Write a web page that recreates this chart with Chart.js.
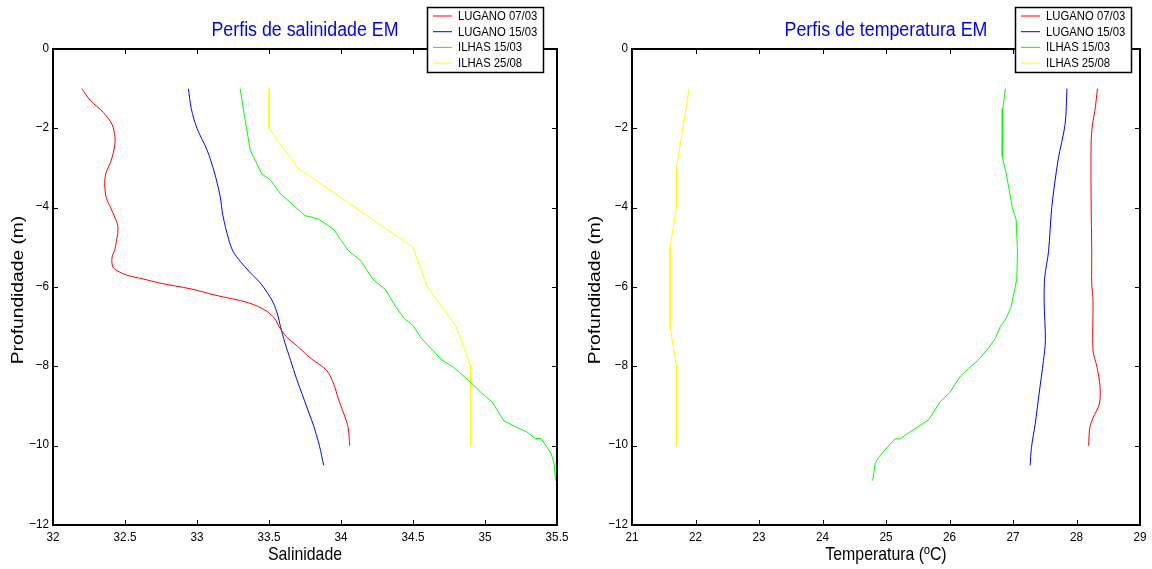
<!DOCTYPE html>
<html>
<head>
<meta charset="utf-8">
<script src="https://cdn.jsdelivr.net/npm/chart.js@4"></script>
<style>
  body { margin: 0; background: #fff; }
  #wrap { position: relative; width: 1152px; height: 569px; }
  canvas { position: absolute; top: 0; }
</style>
</head>
<body>
<div id="wrap">
  <canvas id="salChart" width="576" height="569" style="left:0"></canvas>
  <canvas id="tempChart" width="576" height="569" style="left:576px"></canvas>
</div>
<script>
// -----------------------------
// Data (depth in m, negative down)
// -----------------------------
const seriesLabels = ["LUGANO 07/03", "LUGANO 15/03", "ILHAS 15/03", "ILHAS 25/08"];
const seriesColors = ["#ff0000", "#0000ff", "#00ff00", "#ffff00"];
const yTicks = [0, -2, -4, -6, -8, -10, -12];

// salinity
const salLug0703Depth = [-1, -1.3, -1.6, -1.9, -2.2, -2.4, -2.6, -2.85, -3.1, -3.3, -3.5, -3.75, -4.0, -4.25, -4.45, -4.65, -4.85, -5.05, -5.25, -5.42, -5.52, -5.6, -5.7, -5.8, -5.9, -6.05, -6.2, -6.4, -6.6, -6.8, -7.0, -7.25, -7.5, -7.8, -8.1, -8.45, -8.8, -9.2, -9.55, -10];
const salLug0703 = [32.2, 32.26, 32.35, 32.41, 32.43, 32.43, 32.42, 32.40, 32.37, 32.36, 32.36, 32.37, 32.40, 32.43, 32.45, 32.45, 32.44, 32.43, 32.41, 32.41, 32.42, 32.45, 32.51, 32.63, 32.74, 32.96, 33.12, 33.36, 33.48, 33.54, 33.57, 33.62, 33.70, 33.79, 33.90, 33.95, 33.98, 34.02, 34.05, 34.06];
const salLug1503Depth = [-1, -1.5, -2, -2.55, -3.1, -3.7, -4.2, -4.8, -5.1, -5.35, -5.6, -5.9, -6.1, -6.4, -6.7, -7.0, -7.4, -7.85, -8.3, -8.8, -9.2, -9.5, -10.0, -10.5];
const salLug1503 = [32.94, 32.96, 33.0, 33.07, 33.12, 33.16, 33.18, 33.22, 33.25, 33.30, 33.36, 33.44, 33.48, 33.53, 33.56, 33.58, 33.61, 33.65, 33.69, 33.74, 33.78, 33.81, 33.85, 33.88];
const salIlh1503Depth = [-1, -1.7, -2.55, -3.15, -3.3, -3.65, -4.2, -4.28, -4.55, -5.08, -5.35, -5.8, -6.07, -6.5, -6.8, -6.97, -7.3, -7.84, -8.02, -8.4, -8.65, -8.9, -9.37, -9.54, -9.65, -9.82, -9.82, -10.2, -10.46, -10.88];
const salIlh1503 = [33.30, 33.33, 33.37, 33.45, 33.51, 33.58, 33.75, 33.84, 33.95, 34.05, 34.14, 34.22, 34.31, 34.38, 34.44, 34.50, 34.56, 34.70, 34.78, 34.90, 34.97, 35.05, 35.13, 35.22, 35.29, 35.35, 35.39, 35.46, 35.48, 35.49];
const salIlh2508Depth = [-1, -2, -3, -4, -5, -6, -7, -8, -9, -10];
const salIlh2508 = [33.5, 33.5, 33.7, 34.1, 34.5, 34.6, 34.8, 34.9, 34.9, 34.9];

// temperature
const tmpLug0703Depth = [-1, -1.55, -1.92, -2.4, -3.8, -5.1, -5.9, -6.35, -7.6, -8.0, -8.5, -8.95, -9.3, -9.55, -10];
const tmpLug0703 = [28.33, 28.29, 28.25, 28.23, 28.23, 28.24, 28.24, 28.26, 28.26, 28.32, 28.37, 28.36, 28.26, 28.21, 28.19];
const tmpLug1503Depth = [-1, -1.9, -2.8, -4.0, -5.1, -5.75, -6.35, -7.35, -7.85, -8.7, -9.45, -10.05, -10.5];
const tmpLug1503 = [27.85, 27.82, 27.71, 27.61, 27.56, 27.50, 27.49, 27.51, 27.48, 27.41, 27.35, 27.29, 27.27];
const tmpIlh1503Depth = [-1, -1.5, -2.7, -3.2, -4.0, -4.3, -5.1, -5.8, -6.5, -6.8, -7.0, -7.3, -7.55, -7.85, -8.05, -8.25, -8.65, -8.9, -9.35, -9.55, -9.65, -9.83, -9.83, -10.15, -10.3, -10.45, -10.88];
const tmpIlh1503 = [26.88, 26.84, 26.83, 26.90, 26.99, 27.05, 27.07, 27.06, 26.97, 26.89, 26.80, 26.72, 26.61, 26.45, 26.30, 26.17, 26.01, 25.85, 25.67, 25.48, 25.38, 25.22, 25.14, 24.96, 24.88, 24.83, 24.79];
const tmpIlh2508Depth = [-1, -2, -3, -4, -5, -6, -7, -8, -9, -10];
const tmpIlh2508 = [21.9, 21.8, 21.7, 21.7, 21.6, 21.6, 21.6, 21.7, 21.7, 21.7];

const FONT = '"Liberation Sans", Arial, Helvetica, sans-serif';

function pts(xs, ys) {
  return xs.map((v, i) => ({ x: v, y: ys[i] }));
}

function buildDatasets(list) {
  return list.map((s, i) => ({
    label: seriesLabels[i],
    data: pts(s[0], s[1]),
    borderColor: seriesColors[i],
    backgroundColor: seriesColors[i],
    borderWidth: 1,
    showLine: true,
    pointRadius: 0,
    tension: s[2] || 0
  }));
}

// condensed text, like the matlab export
function text(ctx, str, x, y, size, sx, align, rot) {
  ctx.save();
  ctx.translate(x, y);
  if (rot) ctx.rotate(rot);
  ctx.scale(sx, 1);
  ctx.font = size + "px " + FONT;
  ctx.textAlign = align;
  ctx.textBaseline = "middle";
  ctx.fillText(str, 0, 0);
  ctx.restore();
}

const fmt = v => String(v).replace("-", "\u2212");

// -----------------------------
// Plugin: matlab style frame, ticks, title, labels, legend
// -----------------------------
const matlabDeco = {
  id: "matlabDeco",
  afterDraw(chart) {
    const o = chart.options.plugins.matlabDeco;
    const ctx = chart.ctx;
    const a = chart.chartArea;
    const xs = chart.scales.x, ys = chart.scales.y;
    ctx.save();
    ctx.strokeStyle = "#000";
    ctx.lineWidth = 1;
    // inward ticks
    ctx.beginPath();
    xs.ticks.forEach(t => {
      const px = Math.round(xs.getPixelForValue(t.value)) + 0.5;
      ctx.moveTo(px, a.bottom); ctx.lineTo(px, a.bottom - 5);
      ctx.moveTo(px, a.top); ctx.lineTo(px, a.top + 5);
    });
    ys.ticks.forEach(t => {
      const py = Math.round(ys.getPixelForValue(t.value)) + 0.5;
      ctx.moveTo(a.left, py); ctx.lineTo(a.left + 5, py);
      ctx.moveTo(a.right, py); ctx.lineTo(a.right - 5, py);
    });
    ctx.stroke();
    // frame
    ctx.lineWidth = 2;
    ctx.strokeRect(Math.round(a.left), Math.round(a.top), Math.round(a.right - a.left), Math.round(a.bottom - a.top));

    // tick labels
    ctx.fillStyle = "#000";
    xs.ticks.forEach(t => text(ctx, fmt(t.value), xs.getPixelForValue(t.value), 537, 13, 0.9, "center"));
    ys.ticks.forEach(t => text(ctx, fmt(t.value), a.left - 4, ys.getPixelForValue(t.value) - 1, 13, 0.9, "right"));

    // title
    ctx.fillStyle = "#0000ff";
    text(ctx, o.title, (a.left + a.right) / 2, 30, 20, 0.89, "center");

    // axis labels
    ctx.fillStyle = "#000";
    text(ctx, o.xLabel, (a.left + a.right) / 2, 555, 19, 0.835, "center");
    text(ctx, "Profundidade (m)", o.yLabelX, (a.top + a.bottom) / 2 + 3, 16, 1.2, "center", -Math.PI / 2);

    // legend
    const lx = o.legendX, ly = 7, lw = 116, lh = 65;
    ctx.fillStyle = "#fff";
    ctx.fillRect(lx, ly, lw, lh);
    ctx.lineWidth = 1.5;
    ctx.strokeStyle = "#000";
    ctx.strokeRect(lx + 0.5, ly + 0.5, lw, lh);
    ctx.lineWidth = 1;
    chart.data.datasets.forEach((ds, i) => {
      const ry = ly + 9 + i * 15.7;
      ctx.strokeStyle = ds.borderColor;
      ctx.beginPath();
      ctx.moveTo(lx + 6, ry); ctx.lineTo(lx + 25, ry);
      ctx.stroke();
      ctx.fillStyle = "#000";
      text(ctx, ds.label, lx + 31, ry + 0.5, 13, 0.87, "left");
    });
    ctx.restore();
  }
};

function makeChart(id, cfg) {
  return new Chart(document.getElementById(id), {
    type: "scatter",
    data: { datasets: buildDatasets(cfg.series) },
    options: {
      responsive: false,
      animation: false,
      layout: { padding: { top: 49, right: cfg.padRight, left: 0, bottom: 0 } },
      plugins: {
        legend: { display: false },
        tooltip: { enabled: false },
        matlabDeco: cfg.deco
      },
      scales: {
        x: {
          type: "linear",
          min: cfg.xMin, max: cfg.xMax,
          grid: { display: false, drawTicks: false },
          border: { display: false },
          afterFit(scale) { scale.height = 44; },
          afterBuildTicks(scale) { scale.ticks = cfg.xTicks.map(v => ({ value: v })); },
          ticks: { display: false }
        },
        y: {
          type: "linear",
          min: -12, max: 0,
          grid: { display: false, drawTicks: false },
          border: { display: false },
          afterFit(scale) { scale.width = cfg.plotLeft; },
          afterBuildTicks(scale) { scale.ticks = yTicks.map(v => ({ value: v })); },
          ticks: { display: false }
        }
      }
    },
    plugins: [matlabDeco]
  });
}

makeChart("salChart", {
  series: [
    [salLug0703, salLug0703Depth, 0.3],
    [salLug1503, salLug1503Depth, 0.3],
    [salIlh1503, salIlh1503Depth, 0],
    [salIlh2508, salIlh2508Depth, 0]
  ],
  xMin: 32, xMax: 35.5,
  xTicks: [32, 32.5, 33, 33.5, 34, 34.5, 35, 35.5],
  plotLeft: 53, padRight: 19,
  deco: { title: "Perfis de salinidade EM", xLabel: "Salinidade", yLabelX: 19, legendX: 427 }
});

makeChart("tempChart", {
  series: [
    [tmpLug0703, tmpLug0703Depth, 0.3],
    [tmpLug1503, tmpLug1503Depth, 0.3],
    [tmpIlh1503, tmpIlh1503Depth, 0],
    [tmpIlh2508, tmpIlh2508Depth, 0]
  ],
  xMin: 21, xMax: 29,
  xTicks: [21, 22, 23, 24, 25, 26, 27, 28, 29],
  plotLeft: 56, padRight: 12,
  deco: { title: "Perfis de temperatura EM", xLabel: "Temperatura (\u00baC)", yLabelX: 20, legendX: 439 }
});
</script>
</body>
</html>
